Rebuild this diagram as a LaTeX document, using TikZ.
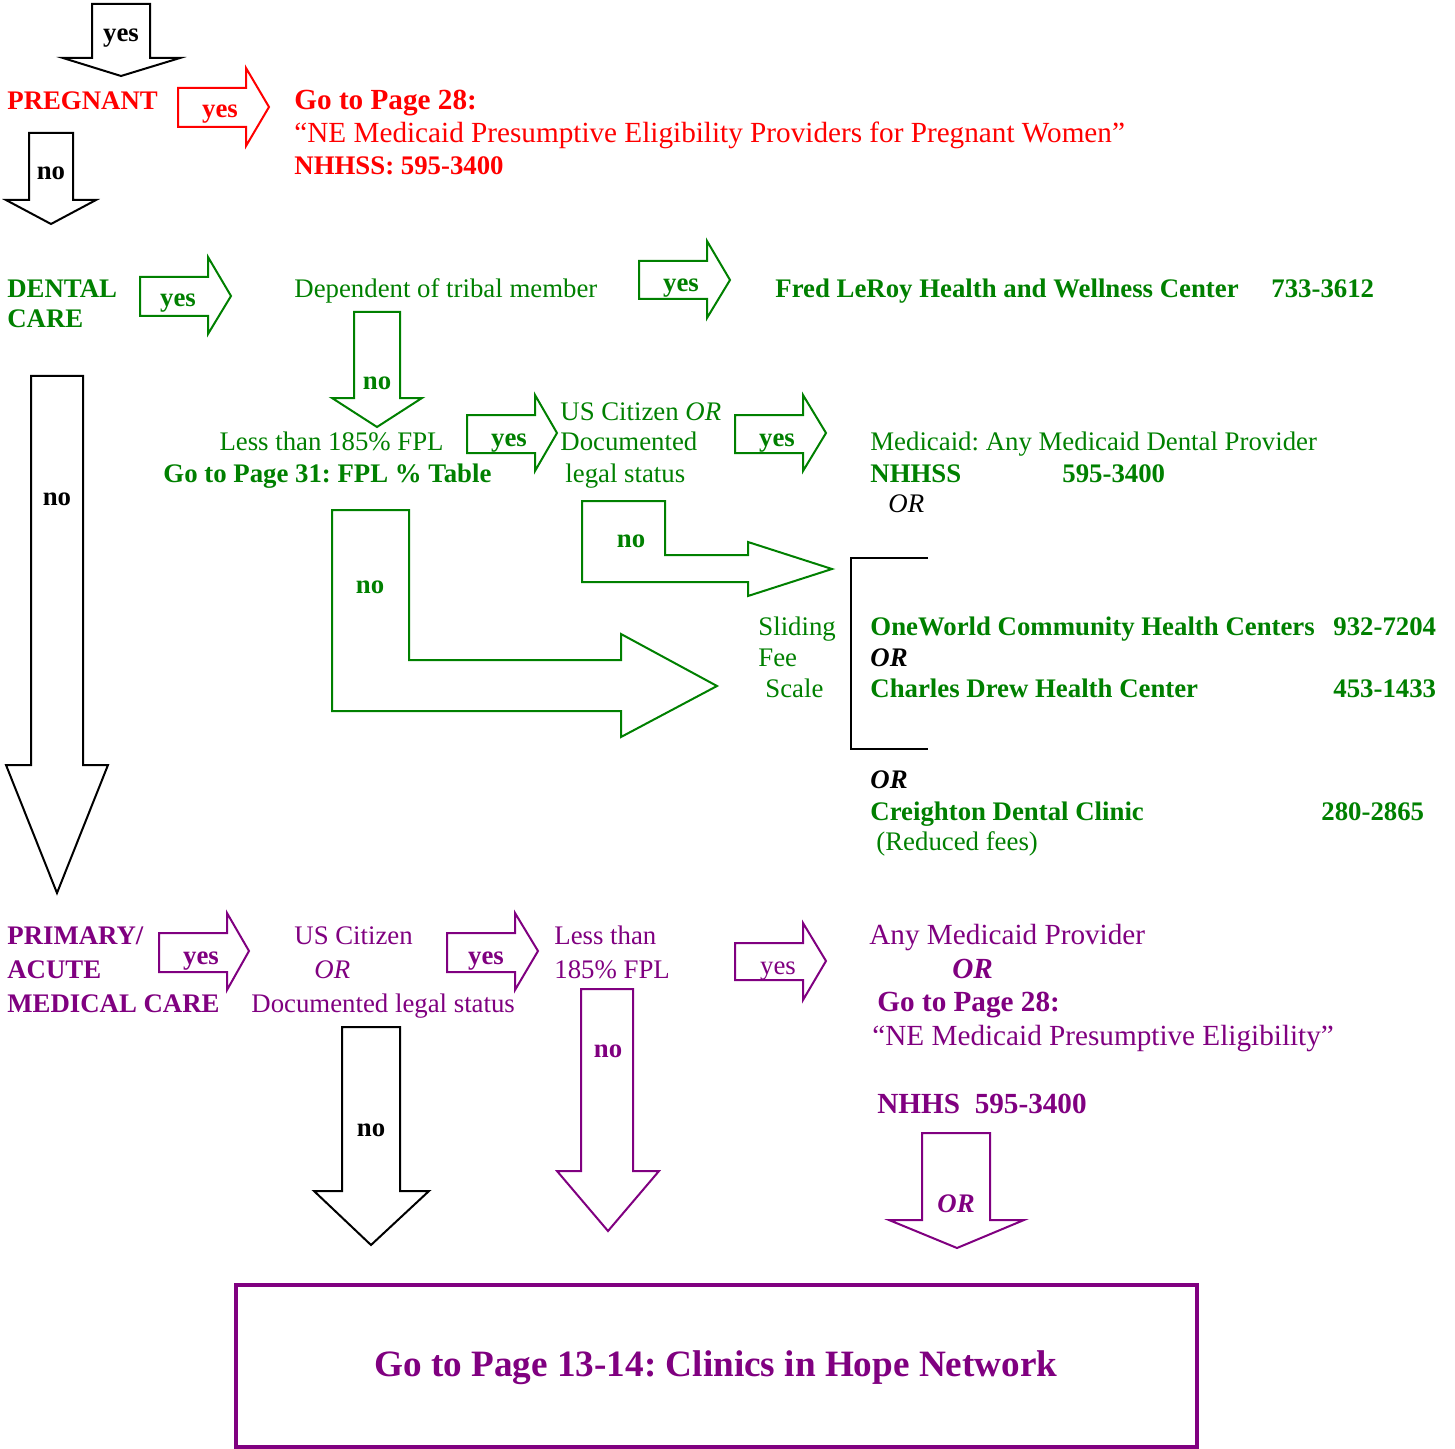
\documentclass[tikz,border=0pt]{standalone}
\usepackage{fontspec}
\setmainfont{Liberation Serif}
\frenchspacing
\definecolor{cred}{RGB}{255,0,0}
\definecolor{cgreen}{RGB}{0,128,0}
\definecolor{cpurple}{RGB}{128,0,128}
\begin{document}
\begin{tikzpicture}[x=0.5pt,y=-0.5pt,
  txt/.style={inner sep=0pt,anchor=base west,font=\fontsize{13.4}{16}\selectfont},
  btxt/.style={txt,font=\fontsize{13.4}{16}\selectfont\bfseries},
  bigtxt/.style={txt,font=\fontsize{14.6}{17.5}\selectfont},
  bigbtxt/.style={txt,font=\fontsize{14.6}{17.5}\selectfont\bfseries},
  lbl/.style={inner sep=0pt,anchor=base,font=\fontsize{13.4}{16}\selectfont\bfseries},
  blk/.style={line width=1pt,fill=white,line join=miter,draw=#1},
]
\useasboundingbox (0,0) rectangle (1455,1449);

% ---------- PREGNANT row ----------
\draw[blk=black] (92,4) -- (150,4) -- (150,58) -- (180,58) -- (121,76) -- (63,58) -- (92,58) -- cycle;
\node[lbl] (l1) at (121,42) {yes};
\node[btxt,text=cred] (preg) at (7,110) {PREGNANT};
\draw[blk=cred] (178,88) -- (246,88) -- (246,68) -- (269,107) -- (246,146) -- (246,127) -- (178,127) -- cycle;
\node[lbl,text=cred] (l2) at (220,118) {yes};
\node[bigbtxt,text=cred] (p28a) at (294,110) {Go to Page 28:};
\node[bigtxt,text=cred] (p28b) at (294,143) {“NE Medicaid Presumptive Eligibility Providers for Pregnant Women”};
\node[btxt,text=cred] (p28c) at (294,175) {NHHSS: 595-3400};
\draw[blk=black] (29,133) -- (73,133) -- (73,200) -- (96,200) -- (51,224) -- (6,200) -- (29,200) -- cycle;
\node[lbl] (l3) at (51,180) {no};

% ---------- DENTAL row ----------
\node[btxt,text=cgreen] (den1) at (7,298) {DENTAL};
\node[btxt,text=cgreen] (den2) at (7,328) {CARE};
\draw[blk=cgreen] (140,277) -- (208,277) -- (208,257) -- (231,296) -- (208,334) -- (208,316) -- (140,316) -- cycle;
\node[lbl,text=cgreen] (l4) at (178,307) {yes};
\node[txt,text=cgreen] (dep) at (294,298) {Dependent of tribal member};
\draw[blk=cgreen] (639,261) -- (707,261) -- (707,241) -- (730,280) -- (707,318) -- (707,299) -- (639,299) -- cycle;
\node[lbl,text=cgreen] (l5) at (681,292) {yes};
\node[btxt,text=cgreen] (fred) at (775,298) {Fred LeRoy Health and Wellness Center};
\node[btxt,text=cgreen] (fredn) at (1271,298) {733-3612};

\draw[blk=cgreen] (354,312) -- (400,312) -- (400,398) -- (422,398) -- (377,427) -- (332,398) -- (354,398) -- cycle;
\node[lbl,text=cgreen] (l6) at (377,389) {no};

\draw[blk=black] (31,376) -- (83,376) -- (83,765) -- (108,765) -- (57,893) -- (6,765) -- (31,765) -- cycle;
\node[lbl] (l7) at (57,505) {no};

\node[txt,anchor=base east,text=cgreen] (fpl) at (444,450) {Less than 185\% FPL};
\node[btxt,text=cgreen] (p31) at (163,482) {Go to Page 31: FPL \% Table};
\draw[blk=cgreen] (467,415) -- (535,415) -- (535,395) -- (557,433) -- (535,471) -- (535,453) -- (467,453) -- cycle;
\node[lbl,text=cgreen] (l8) at (509,446) {yes};
\node[txt,text=cgreen] (us1) at (560,420) {US Citizen \textit{OR}};
\node[txt,text=cgreen] (us2) at (560,450) {Documented};
\node[txt,text=cgreen] (us3) at (565,482) {legal status};
\draw[blk=cgreen] (735,415) -- (803,415) -- (803,395) -- (826,433) -- (803,471) -- (803,453) -- (735,453) -- cycle;
\node[lbl,text=cgreen] (l9) at (777,446) {yes};
\node[txt,text=cgreen] (med1) at (870,450) {Medicaid: Any Medicaid Dental Provider};
\node[btxt,text=cgreen] (med2) at (870,482) {NHHSS};
\node[btxt,text=cgreen] (med3) at (1062,482) {595-3400};
\node[txt] (or1) at (888,512) {\textit{OR}};

% bent arrows
\draw[blk=cgreen] (582,501) -- (665,501) -- (665,555) -- (748,555) -- (748,542) -- (832,569) -- (748,596) -- (748,582) -- (582,582) -- cycle;
\node[lbl,text=cgreen] (l10) at (631,547) {no};
\draw[blk=cgreen] (332,510) -- (409,510) -- (409,660) -- (621,660) -- (621,634) -- (717,686) -- (621,737) -- (621,711) -- (332,711) -- cycle;
\node[lbl,text=cgreen] (l11) at (370,593) {no};

\node[txt,text=cgreen] (sl1) at (758,635) {Sliding};
\node[txt,text=cgreen] (sl2) at (758,666) {Fee};
\node[txt,text=cgreen] (sl3) at (765,697) {Scale};
\draw[line width=1pt] (928,558) -- (851,558) -- (851,749) -- (928,749);
\node[btxt,text=cgreen] (ow) at (870,635) {OneWorld Community Health Centers};
\node[btxt,text=cgreen] (own) at (1333,635) {932-7204};
\node[btxt] (or2) at (870,666) {\textit{OR}};
\node[btxt,text=cgreen] (cd) at (870,697) {Charles Drew Health Center};
\node[btxt,text=cgreen] (cdn) at (1333,697) {453-1433};
\node[btxt] (or3) at (870,788) {\textit{OR}};
\node[btxt,text=cgreen] (cr) at (870,820) {Creighton Dental Clinic};
\node[btxt,text=cgreen] (crn) at (1321,820) {280-2865};
\node[txt,text=cgreen] (rf) at (876,850) {(Reduced fees)};

% ---------- PRIMARY row ----------
\node[btxt,text=cpurple] (pr1) at (7,944) {PRIMARY/};
\node[btxt,text=cpurple] (pr2) at (7,978) {ACUTE};
\node[btxt,text=cpurple] (pr3) at (7,1012) {MEDICAL CARE};
\draw[blk=cpurple] (159,933) -- (227,933) -- (227,913) -- (249,951) -- (227,990) -- (227,972) -- (159,972) -- cycle;
\node[lbl,text=cpurple] (l12) at (201,964) {yes};
\node[txt,text=cpurple] (pu1) at (294,944) {US Citizen};
\node[txt,text=cpurple] (pu2) at (314,978) {\textit{OR}};
\node[txt,text=cpurple] (pu3) at (251,1012) {Documented legal status};
\draw[blk=cpurple] (447,933) -- (515,933) -- (515,913) -- (538,951) -- (515,990) -- (515,972) -- (447,972) -- cycle;
\node[lbl,text=cpurple] (l13) at (486,964) {yes};
\node[txt,text=cpurple] (pl1) at (554,944) {Less than};
\node[txt,text=cpurple] (pl2) at (554,978) {185\% FPL};
\draw[blk=cpurple] (735,943) -- (803,943) -- (803,923) -- (826,961) -- (803,1000) -- (803,980) -- (735,980) -- cycle;
\node[lbl,font=\fontsize{13.4}{16}\selectfont,text=cpurple] (l14) at (778,974) {yes};
\node[bigtxt,text=cpurple] (am1) at (869,944) {Any Medicaid Provider};
\node[bigbtxt,text=cpurple] (am2) at (952,978) {\textit{OR}};
\node[bigbtxt,text=cpurple] (am3) at (877,1011) {Go to Page 28:};
\node[bigtxt,text=cpurple] (am4) at (872,1045) {“NE Medicaid Presumptive Eligibility”};
\node[bigbtxt,text=cpurple] (am5) at (877,1113) {NHHS\ \ 595-3400};

\draw[blk=black] (342,1027) -- (400,1027) -- (400,1191) -- (429,1191) -- (371,1245) -- (314,1191) -- (342,1191) -- cycle;
\node[lbl] (l15) at (371,1136) {no};
\draw[blk=cpurple] (581,989) -- (633,989) -- (633,1171) -- (659,1171) -- (608,1231) -- (557,1171) -- (581,1171) -- cycle;
\node[lbl,text=cpurple] (l16) at (608,1057) {no};
\draw[blk=cpurple] (922,1133) -- (990,1133) -- (990,1220) -- (1024,1220) -- (957,1248) -- (889,1220) -- (922,1220) -- cycle;
\node[lbl,text=cpurple] (l17) at (956,1212) {\textit{OR}};

% ---------- final box ----------
\draw[cpurple,line width=2pt] (236,1285) rectangle (1197,1447);
\node[inner sep=0pt,anchor=base,text=cpurple,font=\fontsize{18.6}{22}\selectfont\bfseries] (hope) at (716,1376) {Go to Page 13-14: Clinics in Hope Network};
\end{tikzpicture}
\end{document}
